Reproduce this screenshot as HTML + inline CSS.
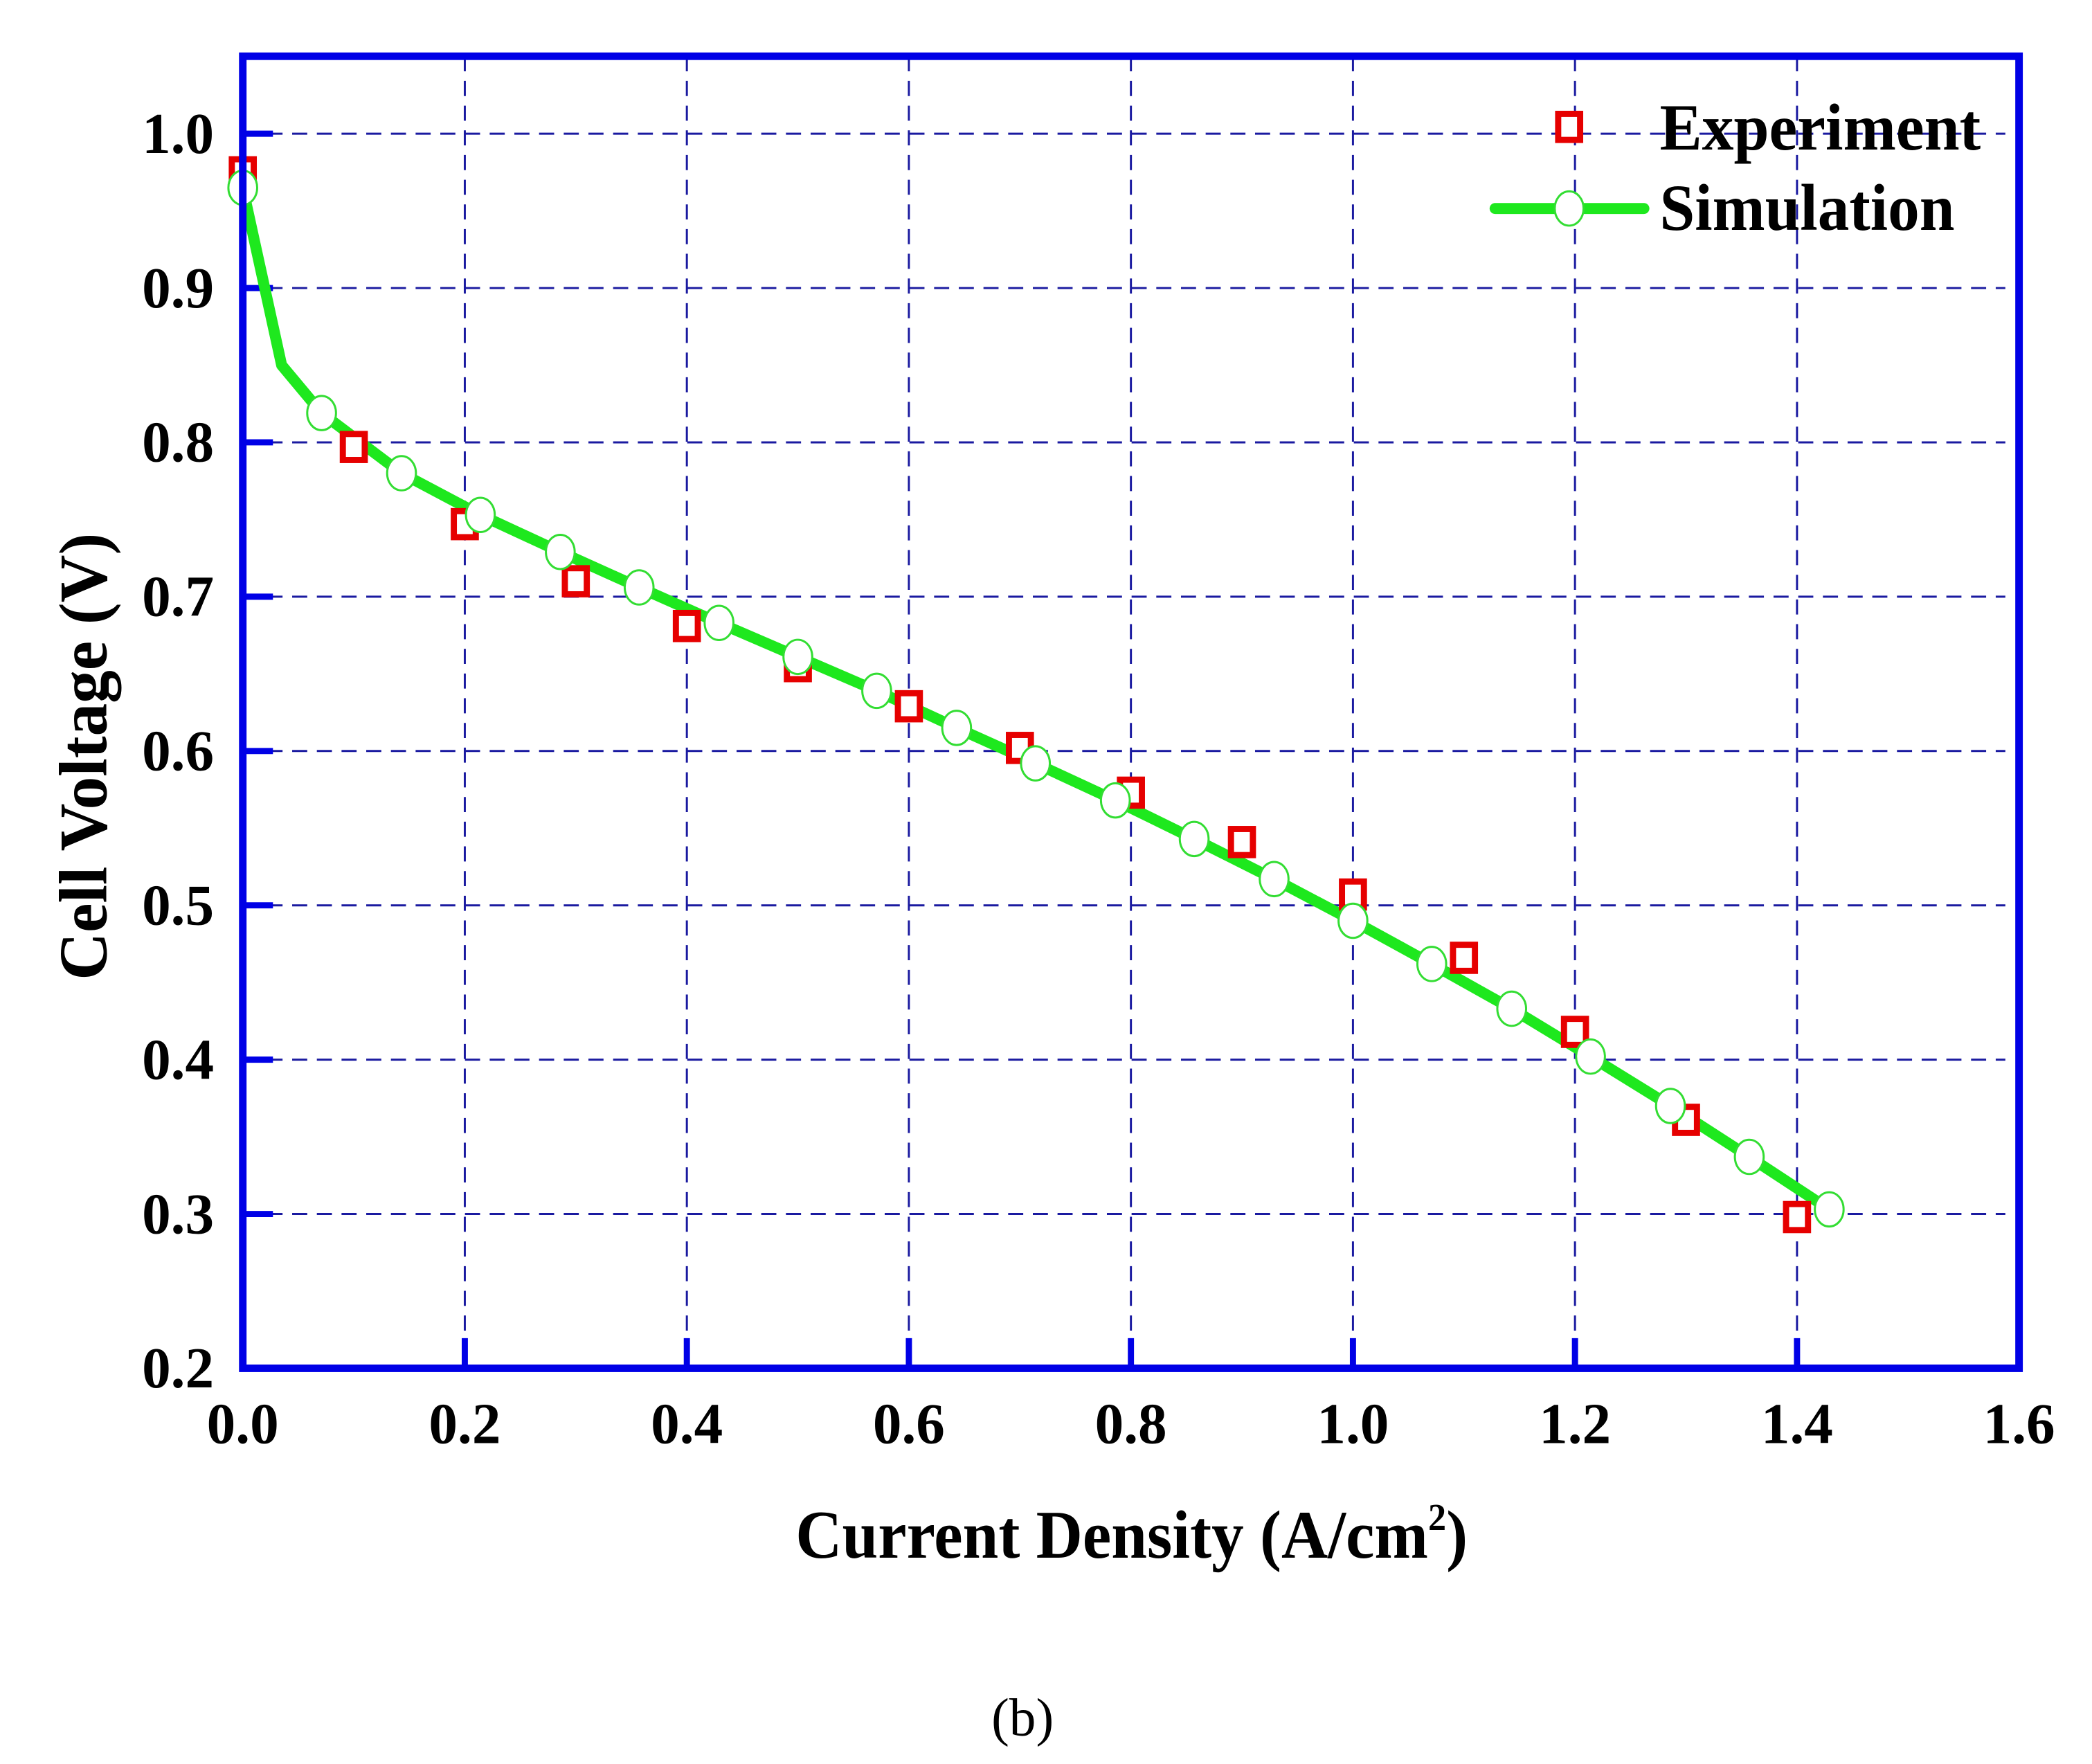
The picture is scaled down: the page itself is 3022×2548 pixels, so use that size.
<!DOCTYPE html>
<html><head><meta charset="utf-8"><style>
html,body{margin:0;padding:0;background:#fff;}
svg{display:block;}
text{font-family:"Liberation Serif",serif;font-weight:bold;fill:#000;}
</style></head><body>
<svg id="chart" width="3022" height="2548" viewBox="0 0 3022 2548" xmlns="http://www.w3.org/2000/svg">
<g transform="scale(0.9907)">
<g id="grid"></g>
<g id="ticks"></g>
<g id="series"></g>
<rect x="354" y="82" width="2590" height="1913" fill="none" stroke="#0000e6" stroke-width="11"/>
<g id="labels"></g>
<text x="0" y="0" transform="translate(155,1103) rotate(-90)" text-anchor="middle" font-size="100" textLength="652" lengthAdjust="spacingAndGlyphs">Cell Voltage (V)</text>
<text x="1650" y="2271" text-anchor="middle" font-size="100" textLength="980" lengthAdjust="spacingAndGlyphs">Current Density (A/cm<tspan dy="-40" font-size="56">2</tspan><tspan dy="40">)</tspan></text>
<g>
<rect x="2272" y="166" width="32" height="38" fill="#fff" stroke="#e60000" stroke-width="9"/>
<text x="2420" y="218" font-size="96" textLength="468" lengthAdjust="spacingAndGlyphs">Experiment</text>
<line x1="2180" y1="304" x2="2397" y2="304" stroke="#1ee81e" stroke-width="16" stroke-linecap="round"/>
<ellipse cx="2288" cy="304" rx="21" ry="25" fill="#fff" stroke="#33dd33" stroke-width="3"/>
<text x="2420" y="335" font-size="96" textLength="430" lengthAdjust="spacingAndGlyphs">Simulation</text>
</g>
<text x="1491" y="2530" text-anchor="middle" font-size="78" style="font-weight:normal">(b)</text>
</g>
</svg>
<script>
const xTicks = [0.0,0.2,0.4,0.6,0.8,1.0,1.2,1.4,1.6];
const xTickLabels = ["0.0","0.2","0.4","0.6","0.8","1.0","1.2","1.4","1.6"];
const yTicks = [0.2,0.3,0.4,0.5,0.6,0.7,0.8,0.9,1.0];
const yTickLabels = ["0.2","0.3","0.4","0.5","0.6","0.7","0.8","0.9","1.0"];
const expX = [0.0,0.1,0.2,0.3,0.4,0.5,0.6,0.7,0.8,0.9,1.0,1.1,1.2,1.3,1.4];
const expY = [0.975,0.797,0.747,0.710,0.681,0.655,0.629,0.602,0.573,0.541,0.507,0.466,0.418,0.361,0.298];
const simX = [0.0,0.035,0.071,0.143,0.214,0.286,0.357,0.429,0.5,0.571,0.643,0.714,0.786,0.857,0.929,1.0,1.071,1.143,1.214,1.286,1.357,1.429];
const simY = [0.965,0.850,0.819,0.780,0.753,0.729,0.706,0.683,0.661,0.639,0.615,0.592,0.568,0.543,0.517,0.490,0.462,0.433,0.402,0.370,0.337,0.303];
const simMarker = [1,0,1,1,1,1,1,1,1,1,1,1,1,1,1,1,1,1,1,1,1,1];

const NS = "http://www.w3.org/2000/svg";
const X0=354, X1=2944, Y0=1995, Y1=82;
const xmin=0, xmax=1.6, ymin=0.2, ymax=1.0502;
function sx(v){return X0+(v-xmin)/(xmax-xmin)*(X1-X0);}
function sy(v){return Y0-(v-ymin)/(ymax-ymin)*(Y0-Y1);}
function mk(tag,attrs,parent){const e=document.createElementNS(NS,tag);for(const k in attrs)e.setAttribute(k,attrs[k]);parent.appendChild(e);return e;}
const grid=document.getElementById('grid'), ticks=document.getElementById('ticks'), series=document.getElementById('series'), labels=document.getElementById('labels');

xTicks.forEach((v,i)=>{
  const x=sx(v);
  if(i>0 && i<xTicks.length-1){
    const g=mk('line',{x1:x,y1:Y1,x2:x,y2:Y0,stroke:'#1a1aa0','stroke-width':3,'stroke-dasharray':'22 14'},grid);
    
    
  }
  const t=mk('line',{x1:x,y1:Y0,x2:x,y2:Y0-44,stroke:'#0000e6','stroke-width':9},ticks);
  
  
  const l=mk('text',{x:x,y:2104,'text-anchor':'middle','font-size':84},labels);
  
  
  l.textContent=xTickLabels[i];
});
yTicks.forEach((v,i)=>{
  const y=sy(v);
  if(i>0){
    const g=mk('line',{x1:X0,y1:y,x2:X1-20,y2:y,stroke:'#1a1aa0','stroke-width':3,'stroke-dasharray':'22 14'},grid);
    
    
  }
  const t=mk('line',{x1:X0,y1:y,x2:X0+44,y2:y,stroke:'#0000e6','stroke-width':9},ticks);
  
  
  const l=mk('text',{x:312,y:y+28,'text-anchor':'end','font-size':84},labels);
  
  
  l.textContent=yTickLabels[i];
});

const pts=simX.map((v,i)=>sx(v)+','+sy(simY[i])).join(' ');
const line=mk('polyline',{points:pts,fill:'none',stroke:'#1ee81e','stroke-width':16,'stroke-linejoin':'round'},series);



expX.forEach((v,i)=>{
  const r=mk('rect',{x:sx(v)-16,y:sy(expY[i])-19,width:32,height:38,fill:'#fff',stroke:'#e60000','stroke-width':9},series);
  
  
});
simX.forEach((v,i)=>{
  if(!simMarker[i]) return;
  const c=mk('ellipse',{cx:sx(v),cy:sy(simY[i]),rx:21,ry:25,fill:'#fff',stroke:'#33dd33','stroke-width':3},series);
  
  
});
</script>
</body></html>
